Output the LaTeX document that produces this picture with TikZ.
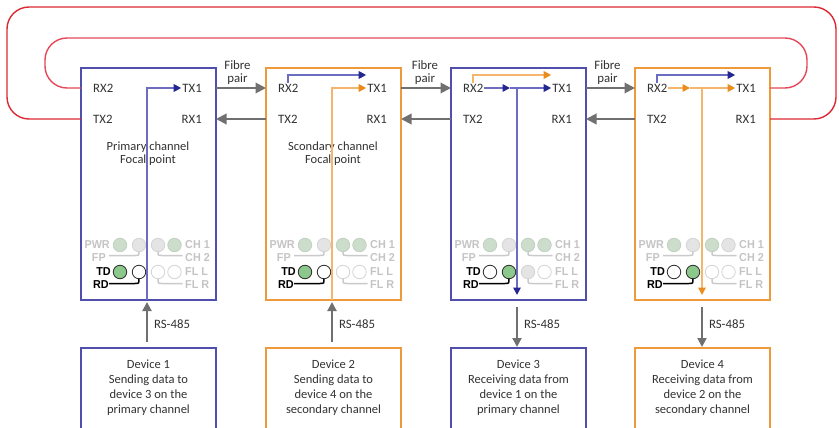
\documentclass[tikz,border=0pt]{standalone}
\usepackage{fontspec}
\setmainfont{Carlito}
\newfontfamily\ledfont[FakeStretch=0.94]{Liberation Sans}
\usetikzlibrary{arrows.meta,calc}

\definecolor{chBlue}{RGB}{80,80,172}
\definecolor{sigBlue}{RGB}{108,108,192}
\definecolor{tipBlue}{RGB}{38,38,145}
\definecolor{chOrange}{RGB}{238,154,58}
\definecolor{sigOrange}{RGB}{244,182,108}
\definecolor{tipOrange}{RGB}{232,140,30}
\definecolor{fibreGray}{RGB}{112,112,112}
\definecolor{loopOuter}{RGB}{220,40,50}
\definecolor{loopInner}{RGB}{228,72,88}
\definecolor{txt}{RGB}{50,50,50}
\definecolor{ledTxt}{RGB}{196,196,196}
\definecolor{ledLine}{RGB}{202,202,202}
\definecolor{ledDim}{RGB}{204,221,204}
\definecolor{ledDimEdge}{RGB}{194,210,194}
\definecolor{ledGrey}{RGB}{228,228,228}
\definecolor{ledGreyEdge}{RGB}{212,212,212}
\definecolor{ledOnC}{RGB}{140,200,140}
\definecolor{ledDark}{RGB}{45,45,45}

% one fibre unit: frame, port labels and title
\newcommand\fpbox[4]{%
  \node[unitbox, draw=#3] (#1) at (#2,68) {};
  \node[port, anchor=west] (#1rx2) at (#2+11,88) {RX2};
  \node[port, anchor=east] (#1tx1) at (#2+122,88) {TX1};
  \node[port, anchor=west] (#1tx2) at (#2+11,119) {TX2};
  \node[port, anchor=east] (#1rx1) at (#2+122,119) {RX1};
  \node[title] (#1t) at (#2+67,153.5) {#4};
}

% LED panel: x of unit, PWR/CH row styles, TD/FL row styles
\newcommand\fpleds[9]{%
  \node[ledlbl, anchor=east] (pwr#1) at (#1+29,245) {PWR};
  \node[#2] (la#1) at (#1+39,245) {};
  \node[#3] (lb#1) at (#1+58,245) {};
  \node[#4] (lc#1) at (#1+77,245) {};
  \node[#5] (ld#1) at (#1+93.5,245) {};
  \node[ledlbl, anchor=west] (cha#1) at (#1+104,245) {CH 1};
  \node[ledlbl, anchor=east] (fp#1) at (#1+25,258) {FP};
  \node[ledlbl, anchor=west] (chb#1) at (#1+104,258) {CH 2};
  \draw[ledbar] (#1+28,255.5) -- (#1+54,255.5) .. controls (#1+58,255.5) .. (lb#1.south);
  \draw[ledbar] (lc#1.south) .. controls (#1+77,255.5) .. (#1+81,255.5) -- (#1+101.5,255.5);
  \node[ledlbl, text=black, anchor=east] (tdl#1) at (#1+30,272) {TD};
  \node[#6] (ta#1) at (#1+39,272) {};
  \node[#7] (tb#1) at (#1+58,272) {};
  \node[#8] (tc#1) at (#1+77,272) {};
  \node[#9] (te#1) at (#1+93.5,272) {};
  \node[ledlbl, anchor=west] (fll#1) at (#1+104,272) {FL L};
  \node[ledlbl, text=black, anchor=east] (rdl#1) at (#1+28,285) {RD};
  \node[ledlbl, anchor=west] (flr#1) at (#1+104,285) {FL R};
  \draw[ledbar, draw=black] (#1+28,283.5) -- (#1+54,283.5) .. controls (#1+58,283.5) .. (tb#1.south);
  \draw[ledbar] (tc#1.south) .. controls (#1+77,283.5) .. (#1+81,283.5) -- (#1+101.5,283.5);
}

% connected device, open at the lower edge
\newcommand\fpdev[4]{%
  \draw[line width=1.4pt, draw=#3] (#2,428) -- (#2,348) -- (#2+135,348) -- (#2+135,428);
  \coordinate (#1top) at (#2+67.5,348);
  \node[devtext] (#1) at (#2+67.5,387.5) {#4};
}

\begin{document}
\begin{tikzpicture}[x=1pt,y=-1pt,
  unitbox/.style={line width=1.4pt, minimum width=135pt, minimum height=232pt,
    inner sep=0pt, outer sep=0pt, anchor=north west},
  port/.style={inner sep=1pt, text=txt, font=\fontsize{12.8}{13}\selectfont},
  title/.style={inner sep=0pt, text=txt, align=center, font=\fontsize{12.5}{13}\selectfont},
  devtext/.style={inner sep=0pt, text=txt, align=center, font=\fontsize{12.5}{15}\selectfont},
  lbl/.style={inner sep=0pt, text=txt, align=center, font=\fontsize{12.8}{13}\selectfont},
  ledlbl/.style={inner sep=0pt, text=ledTxt, font=\ledfont\bfseries\fontsize{11.5}{11}\selectfont},
  ledbar/.style={draw=ledLine, line width=1.5pt},
  led/.style={circle, minimum size=13.5pt, inner sep=0pt, outer sep=0pt, line width=0.8pt},
  ledG/.style={led, fill=ledDim, draw=ledDimEdge},
  ledN/.style={led, fill=ledGrey, draw=ledGreyEdge},
  ledW/.style={led, fill=white, draw=ledGreyEdge},
  ledOn/.style={led, fill=ledOnC, draw=ledDark},
  ledOff/.style={led, fill=white, draw=ledDark},
  sig/.style={line width=1.7pt},
  bluesig/.style={sig, draw=sigBlue, -{Triangle[length=7.5pt,width=7.5pt,color=tipBlue]}},
  orangesig/.style={sig, draw=sigOrange, -{Triangle[length=7.5pt,width=7.5pt,color=tipOrange]}},
  fibre/.style={draw=fibreGray, line width=2pt, -{Triangle[length=10.5pt,width=10.5pt]}},
  rs/.style={draw=fibreGray, line width=2pt, -{Triangle[length=9pt,width=9pt]}},
  loop/.style={line width=1.4pt, rounded corners=22pt}
]
\useasboundingbox (0,0) rectangle (839,428);

% fibre units
\fpbox{b1}{81}{chBlue}{Primary channel\\Focal point}
\fpbox{b2}{266}{chOrange}{Scondary channel\\Focal point}
\fpbox{b3}{451}{chBlue}{}
\fpbox{b4}{635}{chOrange}{}

% LED panels
\fpleds{81}{ledG}{ledN}{ledN}{ledG}{ledOn}{ledOff}{ledW}{ledW}
\fpleds{266}{ledG}{ledN}{ledG}{ledG}{ledOn}{ledOff}{ledW}{ledW}
\fpleds{451}{ledG}{ledN}{ledG}{ledG}{ledOff}{ledOn}{ledN}{ledW}
\fpleds{635}{ledG}{ledN}{ledG}{ledN}{ledOff}{ledOn}{ledW}{ledW}

% ring closing fibres
\draw[loop, draw=loopInner] (b1.west |- b1rx2) -- (45,88) -- (45,38) -- (807,38) -- (807,88) -- (b4.east |- b4tx1);
\draw[loop, draw=loopOuter] (b1.west |- b1tx2) -- (7,119) -- (7,7) -- (836,7) -- (836,119) -- (b4.east |- b4rx1);

% fibre pairs between neighbouring units
\draw[fibre] (b1tx1 -| b1.east) -- (b2rx2 -| b2.west)
  node[lbl, midway, xshift=-3.5pt, yshift=15pt] (fp12) {Fibre\\pair};
\draw[fibre] (b2tx2 -| b2.west) -- (b1rx1 -| b1.east);
\draw[fibre] (b2tx1 -| b2.east) -- (b3rx2 -| b3.west)
  node[lbl, midway, xshift=-1pt, yshift=15pt] (fp23) {Fibre\\pair};
\draw[fibre] (b3tx2 -| b3.west) -- (b2rx1 -| b2.east);
\draw[fibre] (b3tx1 -| b3.east) -- (b4rx2 -| b4.west)
  node[lbl, midway, xshift=-3pt, yshift=15pt] (fp34) {Fibre\\pair};
\draw[fibre] (b4tx2 -| b4.west) -- (b3rx1 -| b3.east);

% data paths inside the units
\coordinate (b1v) at ($(b1.south)+(-1.5,0)$);
\coordinate (b2v) at ($(b2.south)+(-1.5,0)$);
\coordinate (b3v) at ($(b3.south)+(-1.5,0)$);
\coordinate (b4v) at ($(b4.south)+(-0.5,0)$);

\draw[bluesig] (b1v) |- (b1tx1.west);

\draw[orangesig] (b2v) |- (b2tx1.west);
\draw[bluesig] (b2rx2.north) |- ($(b2tx1.west)+(0,-13)$);

\coordinate (b3j) at (b3v |- b3rx2);
\coordinate (b3m) at ($(b3j)+(-7,0)$);
\draw[orangesig] (b3rx2.north) |- ($(b3tx1.west)+(0,-13)$);
\draw[bluesig] (b3rx2.east) -- (b3m);
\draw[bluesig] (b3m) -- (b3tx1.west);
\draw[bluesig] (b3j) -- ($(b3v)+(0,-5)$);

\coordinate (b4j) at (b4v |- b4rx2);
\coordinate (b4m) at ($(b4j)+(-12,0)$);
\draw[bluesig] (b4rx2.north) |- ($(b4tx1.west)+(0,-13)$);
\draw[orangesig] (b4rx2.east) -- (b4m);
\draw[orangesig] (b4m) -- (b4tx1.west);
\draw[orangesig] (b4j) -- ($(b4v)+(0,-5)$);

% connected devices
\fpdev{d1}{81}{chBlue}{Device 1\\Sending data to\\device 3 on the\\primary channel}
\fpdev{d2}{266}{chOrange}{Device 2\\Sending data to\\device 4 on the\\secondary channel}
\fpdev{d3}{451}{chBlue}{Device 3\\Receiving data from\\device 1 on the\\primary channel}
\fpdev{d4}{635}{chOrange}{Device 4\\Receiving data from\\device 2 on the\\secondary channel}

% RS-485 links
\draw[rs, shorten <=6pt, shorten >=2pt] (d1top -| b1v) -- (b1v)
  node[lbl, midway, anchor=west, xshift=6pt] (rs1) {RS-485};
\draw[rs, shorten <=6pt, shorten >=2pt] (d2top -| b2v) -- (b2v)
  node[lbl, midway, anchor=west, xshift=6pt] (rs2) {RS-485};
\draw[rs, shorten <=7pt, shorten >=1pt] (b3v) -- (d3top -| b3v)
  node[lbl, midway, anchor=west, xshift=6pt] (rs3) {RS-485};
\draw[rs, shorten <=7pt, shorten >=1pt] (b4v) -- (d4top -| b4v)
  node[lbl, midway, anchor=west, xshift=6pt] (rs4) {RS-485};
\end{tikzpicture}
\end{document}
